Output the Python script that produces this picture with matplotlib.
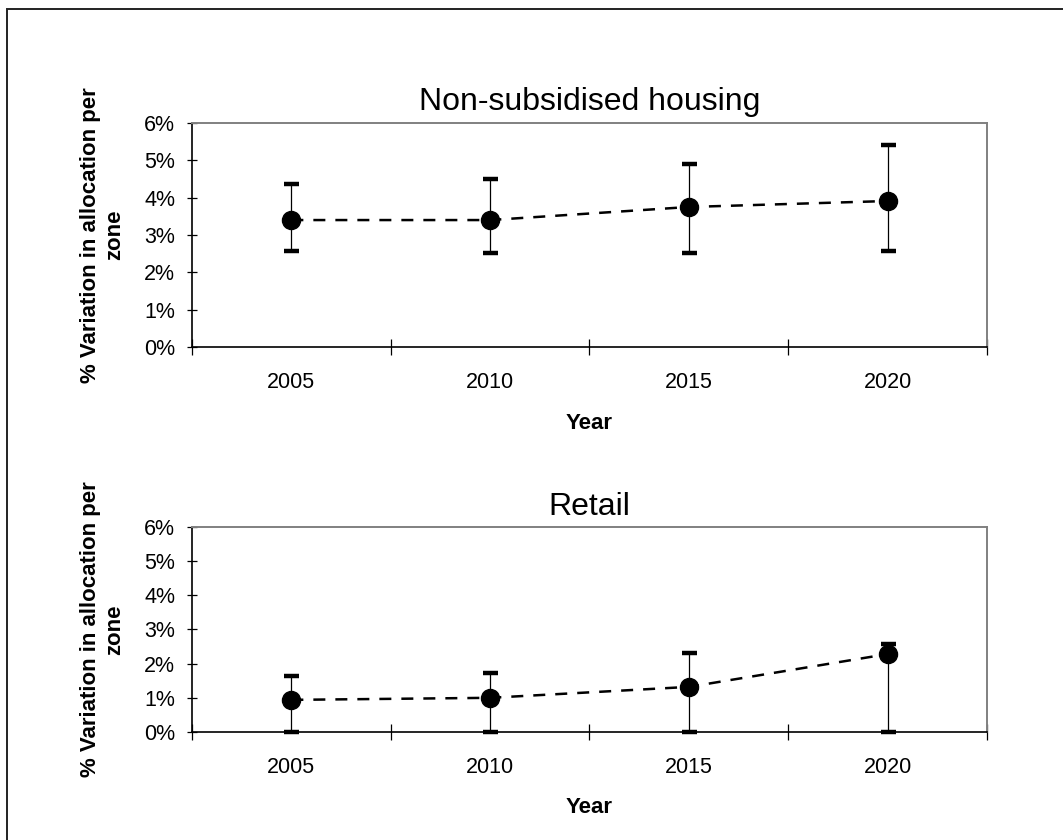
import numpy as np
import matplotlib
matplotlib.use("Agg")
import matplotlib.pyplot as plt
import matplotlib.patches as patches

plt.rcParams['font.family'] = ['Liberation Sans', 'DejaVu Sans']

# categories
years = ['2005', '2010', '2015', '2020']

# Non-subsidised housing (%)
housing_mean = [3.40, 3.40, 3.75, 3.91]
housing_upper = [4.37, 4.50, 4.90, 5.42]
housing_lower = [2.57, 2.52, 2.52, 2.57]

# Retail (%)
retail_mean = [0.94, 1.00, 1.32, 2.28]
retail_upper = [1.64, 1.72, 2.31, 2.57]
retail_lower = [0.0, 0.0, 0.0, 0.0]

ylabel = '% Variation in allocation per\nzone'

fig = plt.figure(figsize=(10.63, 8.4), dpi=100)

# frame around the whole figure
fig.patches.append(patches.Rectangle((7 / 1063, -0.01), 1.0, 1 - 9 / 840 + 0.01,
                                     transform=fig.transFigure, fill=False,
                                     edgecolor='#222222', linewidth=1.4))

ax1 = fig.add_axes([0.1806, 0.5869, 0.7479, 0.2667])
ax2 = fig.add_axes([0.1806, 0.1286, 0.7479, 0.2440])


def panel(ax, title, mean, upper, lower, xlab_y):
    x = np.arange(len(years))
    mean = np.array(mean)
    yerr = [mean - np.array(lower), np.array(upper) - mean]
    # error bars
    ax.errorbar(x, mean, yerr=yerr, fmt='none', ecolor='black', elinewidth=0.9,
                capsize=5.4, capthick=3.2, zorder=3, clip_on=False)
    ax.plot(x, mean, color='black', lw=1.8, dashes=(4.8, 4.0), zorder=4)
    ax.plot(x, mean, 'o', color='black', markersize=13, zorder=5, clip_on=False)

    ax.set_xlim(-0.5, len(years) - 0.5)
    ax.set_ylim(0, 6)
    ax.set_yticks(range(7))
    ax.set_yticklabels(['%d%%' % v for v in range(7)])
    ax.set_xticks(np.arange(-0.5, len(years), 1.0))
    ax.set_xticklabels([])
    ax.set_xticks(x, minor=True)
    ax.set_xticklabels(years, minor=True)
    ax.tick_params(axis='x', which='major', direction='inout', length=12, width=0.9)
    ax.tick_params(axis='x', which='minor', length=0, pad=18, labelsize=15.5)
    ax.tick_params(axis='y', direction='inout', length=7, width=0.9, pad=8.7,
                   labelsize=15.5)

    for s in ['top', 'right']:
        ax.spines[s].set_color('#808080')
        ax.spines[s].set_linewidth(1.4)
    for s in ['left', 'bottom']:
        ax.spines[s].set_color('black')
        ax.spines[s].set_linewidth(1.2)
        ax.spines[s].set_zorder(2.5)

    ax.set_title(title, fontsize=23, pad=9)
    ax.set_ylabel(ylabel, fontsize=16, fontweight='bold', multialignment='center',
                  va='center')
    ax.yaxis.set_label_coords(-0.112, 0.5)
    ax.set_xlabel('Year', fontsize=16, fontweight='bold', va='center')
    ax.xaxis.set_label_coords(0.5, xlab_y)


panel(ax1, 'Non-subsidised housing', housing_mean, housing_upper, housing_lower, -0.34)
panel(ax2, 'Retail', retail_mean, retail_upper, retail_lower, -0.37)

fig.savefig('out.png', dpi=100)
